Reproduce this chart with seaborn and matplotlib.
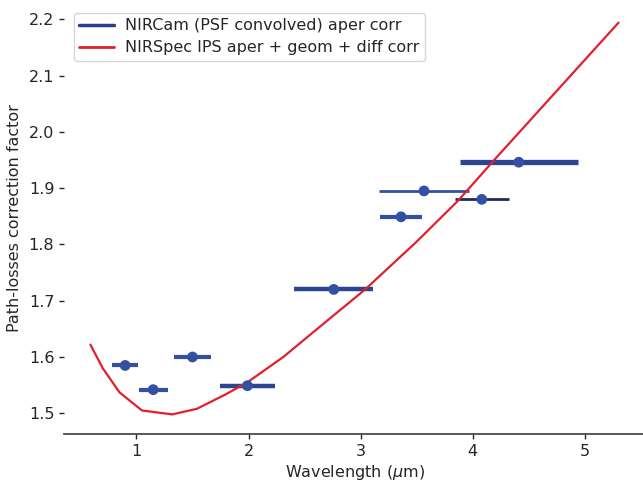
import numpy as np
import pandas as pd
import matplotlib
matplotlib.use("Agg")
import matplotlib.pyplot as plt
from matplotlib.lines import Line2D
import seaborn as sns

# NIRCam filters: pivot wavelength, aperture correction, half bandwidth
filters = ["F090W", "F115W", "F150W", "F200W", "F277W", "F335M", "F356W", "F410M", "F444W"]
nircam_wave = [0.90, 1.15, 1.50, 1.99, 2.76, 3.36, 3.565, 4.08, 4.41]
nircam_corr = [1.585, 1.542, 1.600, 1.549, 1.720, 1.849, 1.895, 1.880, 1.946]
nircam_halfwidth = [0.114, 0.128, 0.169, 0.244, 0.352, 0.187, 0.40, 0.239, 0.527]

# NIRSpec IPS path-loss correction curve
nirspec_wave = [0.59, 0.70, 0.85, 1.05, 1.32, 1.54, 1.80, 1.99, 2.31, 2.68, 3.04,
                3.50, 3.87, 4.20, 4.60, 5.00, 5.30]
nirspec_corr = [1.622, 1.580, 1.537, 1.505, 1.498, 1.508, 1.534, 1.555, 1.600, 1.661, 1.720,
                1.805, 1.878, 1.952, 2.040, 2.128, 2.194]

legend_labels = ["NIRCam (PSF convolved) aper corr", "NIRSpec IPS aper + geom + diff corr"]

sns.set_theme(style="ticks")
plt.rcParams["font.family"] = ["DejaVu Sans"]
plt.rcParams["mathtext.fontset"] = "dejavusans"

blue = "#3450a2"
red = "#e0202c"
bar_lw = [3.0, 3.0, 3.0, 3.2, 3.2, 3.0, 2.0, 2.0, 3.8]
bar_col = [blue, blue, blue, "#2c4592", "#2c4592", blue, blue, "#1e2a5e", "#2c4592"]

fig = plt.figure(figsize=(6.43, 4.84), dpi=100)
ax = fig.add_axes([64 / 643, 50 / 484, 581 / 643, 431 / 484])

df_spec = pd.DataFrame({"wave": nirspec_wave, "corr": nirspec_corr})
df_cam = pd.DataFrame({"wave": nircam_wave, "corr": nircam_corr, "hw": nircam_halfwidth})

sns.lineplot(data=df_spec, x="wave", y="corr", color=red, lw=1.6, ax=ax, zorder=3,
             legend=False)

for i in range(len(nircam_wave)):
    ax.errorbar(nircam_wave[i], nircam_corr[i], xerr=nircam_halfwidth[i], fmt="none",
                ecolor=bar_col[i], elinewidth=bar_lw[i], capsize=0, zorder=2)
sns.scatterplot(data=df_cam, x="wave", y="corr", color=blue, s=60, edgecolor="none",
                ax=ax, zorder=4, legend=False)

handles = [Line2D([], [], color="#2c3f8c", lw=2.5), Line2D([], [], color=red, lw=2.0)]
ax.legend(handles, legend_labels, loc="upper left", fontsize=11.5, handlelength=2.2,
          handletextpad=0.7, frameon=True, borderaxespad=0.6, labelspacing=0.45,
          borderpad=0.35)

ax.set_xlabel(r"Wavelength ($\mu$m)", fontsize=11.5, labelpad=3)
ax.set_ylabel("Path-losses correction factor", fontsize=11.5, labelpad=5)
ax.set_xticks([1, 2, 3, 4, 5])
ax.set_yticks([1.5, 1.6, 1.7, 1.8, 1.9, 2.0, 2.1, 2.2])
ax.tick_params(labelsize=11.5, length=3.5, width=1.0, pad=3.5)
ax.spines["left"].set_visible(False)
ax.spines["top"].set_visible(False)
ax.spines["right"].set_visible(False)
ax.spines["bottom"].set_color("#444444")

fig.savefig("out.png", dpi=100)
